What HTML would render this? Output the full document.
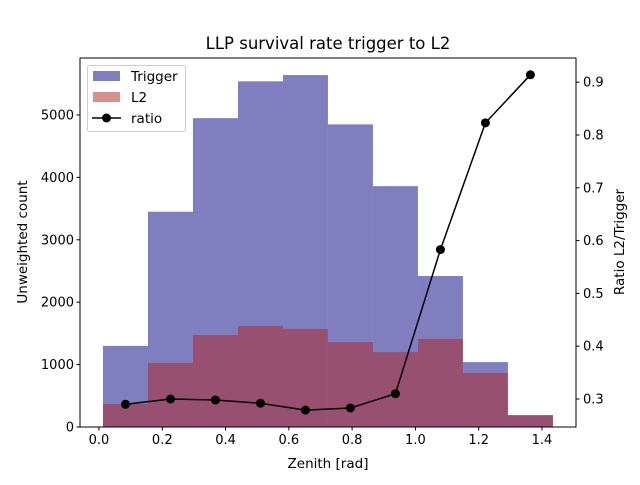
<!DOCTYPE html>
<html><head><meta charset="utf-8"><style>
body{margin:0;background:#fff;font-family:"Liberation Sans","DejaVu Sans",sans-serif;}
svg text{font-family:"DejaVu Sans","Liberation Sans",sans-serif;fill:#000;}
</style></head><body>
<svg id="chart" width="640" height="480" xmlns="http://www.w3.org/2000/svg">
<rect width="640" height="480" fill="#fff"/>
<g id="bars"></g><g id="line"></g><g id="axes"></g>
</svg>
<script>
const binEdges=[0.0126,0.1548,0.297,0.4392,0.5814,0.7236,0.8658,1.008,1.1502,1.2924,1.4346];
const triggerCounts=[1300,3450,4950,5540,5640,4850,3860,2420,1040,190];
const l2Counts=[370,1025,1475,1620,1570,1360,1200,1410,865,190];
const ratioValues=[0.290,0.300,0.298,0.292,0.279,0.283,0.310,0.583,0.823,0.914];
const xTicks=[0.0,0.2,0.4,0.6,0.8,1.0,1.2,1.4];
const yTicks=[0,1000,2000,3000,4000,5000];
const rTicks=[0.3,0.4,0.5,0.6,0.7,0.8,0.9];

const L=80,R=576,T=58,B=427;
const x=v=>99+v*316.4;
const y=v=>427-v*0.0624;
const yr=v=>399-(v-0.3)*528;
const NS="http://www.w3.org/2000/svg";
function mk(tag,attrs,parent,txt){const e=document.createElementNS(NS,tag);for(const k in attrs)e.setAttribute(k,attrs[k]);if(txt!==undefined)e.textContent=txt;parent.appendChild(e);return e;}
const bars=document.getElementById('bars'),line=document.getElementById('line'),axes=document.getElementById('axes');
triggerCounts.forEach((c,i)=>{
 const r=mk('rect',{x:x(binEdges[i]),y:y(c),width:x(binEdges[i+1])-x(binEdges[i]),height:y(0)-y(c),fill:'#000080','fill-opacity':0.5},bars);
 
 
});
l2Counts.forEach((c,i)=>{
 const r=mk('rect',{x:x(binEdges[i]),y:y(c),width:x(binEdges[i+1])-x(binEdges[i]),height:y(0)-y(c),fill:'#b22222','fill-opacity':0.5},bars);
 
 
});
const centers=ratioValues.map((v,i)=>(binEdges[i]+binEdges[i+1])/2);
const pl=mk('polyline',{points:ratioValues.map((v,i)=>x(centers[i])+','+yr(v)).join(' '),fill:'none',stroke:'#000','stroke-width':1.5},line);


ratioValues.forEach((v,i)=>{
 const c=mk('circle',{cx:x(centers[i]),cy:yr(v),r:4.5,fill:'#000'},line);
 
 
});
const fr=mk('rect',{x:L,y:T,width:R-L,height:B-T,fill:'none',stroke:'#000','stroke-width':1},axes);


xTicks.forEach(t=>{
 mk('line',{x1:x(t),x2:x(t),y1:B,y2:B+3.5,stroke:'#000'},axes);
 const tx=mk('text',{x:x(t),y:B+17,'text-anchor':'middle',style:'font-size:13px'},axes,t.toFixed(1));
 
 
});
yTicks.forEach(t=>{
 mk('line',{x1:L,x2:L-3.5,y1:y(t),y2:y(t),stroke:'#000'},axes);
 const tx=mk('text',{x:L-6,y:y(t)+4.5,'text-anchor':'end',style:'font-size:13px'},axes,String(t));
 
 
});
rTicks.forEach(t=>{
 mk('line',{x1:R,x2:R+3.5,y1:yr(t),y2:yr(t),stroke:'#000'},axes);
 const tx=mk('text',{x:R+7,y:yr(t)+4.5,'text-anchor':'start',style:'font-size:13px'},axes,t.toFixed(1));
 
 
});
</script>
<svg style="position:absolute;left:0;top:0" width="640" height="480" xmlns="http://www.w3.org/2000/svg">
<text x="328" y="49" text-anchor="middle" style="font-size:16.5px">LLP survival rate trigger to L2</text>
<text x="328" y="468" text-anchor="middle" style="font-size:13.5px">Zenith [rad]</text>
<text transform="translate(27,242) rotate(-90)" text-anchor="middle" style="font-size:13.5px">Unweighted count</text>
<text transform="translate(624,242) rotate(-90)" text-anchor="middle" style="font-size:13.5px">Ratio L2/Trigger</text>
<g>
<rect x="87.5" y="65.5" width="98" height="66" rx="2" fill="#fff" fill-opacity="0.8" stroke="#ccc"/>
<rect x="93" y="71" width="27" height="10" fill="#7f7fbf"/>
<text x="131" y="81" style="font-size:13.5px">Trigger</text>
<rect x="93" y="92" width="27" height="10" fill="#d88f8f"/>
<text x="131" y="102" style="font-size:13.5px">L2</text>
<line x1="92" x2="121" y1="118" y2="118" stroke="#000" stroke-width="1.5"/>
<circle cx="106.5" cy="118" r="4.5" fill="#000"/>
<text x="131" y="123" style="font-size:13.5px">ratio</text>
</g>
</svg>
</body></html>
